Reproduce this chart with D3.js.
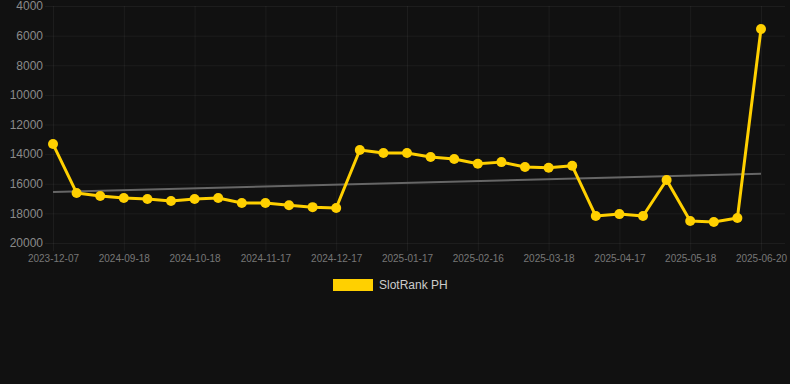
<!DOCTYPE html>
<html><head><meta charset="utf-8">
<script src="https://cdn.jsdelivr.net/npm/d3@7"></script>
<style>html,body{margin:0;padding:0;background:#111111;}svg{display:block;}</style>
</head><body>
<svg id="c" width="790" height="384"></svg>
<script>
const categories = ["2023-12-07","2024-09-03","2024-09-10","2024-09-18","2024-09-25","2024-10-03","2024-10-18","2024-10-25","2024-11-02","2024-11-17","2024-11-25","2024-12-03","2024-12-17","2024-12-25","2025-01-02","2025-01-17","2025-01-25","2025-02-02","2025-02-16","2025-02-24","2025-03-03","2025-03-18","2025-03-26","2025-04-03","2025-04-17","2025-04-25","2025-05-03","2025-05-18","2025-05-26","2025-06-03","2025-06-20"];
const rankValues = [13320,16620,16830,16960,17030,17170,17030,16960,17300,17300,17450,17580,17640,13720,13920,13920,14200,14330,14650,14540,14870,14920,14790,18180,18050,18180,15750,18520,18580,18310,5550];
const tickLabels = ["2023-12-07","2024-09-18","2024-10-18","2024-11-17","2024-12-17","2025-01-17","2025-02-16","2025-03-18","2025-04-17","2025-05-18","2025-06-20"];
const yTicks = [4000,6000,8000,10000,12000,14000,16000,18000,20000];
const seriesName = "SlotRank PH";

(function () {
const svg = d3.select("#c");
const pLeft = 53, pRight = 761, pTop = 6, pBottom = 243;
const x = d3.scalePoint().domain(categories).range([pLeft, pRight]);
const y = d3.scaleLinear().domain([4000, 20000]).range([pTop, pBottom]);
const gridColor = "rgba(255,255,255,0.05)";

const yAxis = d3.axisLeft(y).tickValues(yTicks).tickSize(8).tickFormat(d => d);
const gy = svg.append("g").attr("transform", `translate(${pLeft},0)`).call(yAxis);
gy.select(".domain").remove();
gy.selectAll(".tick line").attr("x1", -8).attr("x2", 785 - pLeft).attr("stroke", gridColor);
gy.selectAll(".tick text").attr("x", -10).attr("fill", "#8a8a8a").attr("font-size", 12)
  .attr("font-family", "Liberation Sans, Arial, sans-serif");

const xAxis = d3.axisBottom(x).tickValues(tickLabels).tickSize(8);
const gx = svg.append("g").attr("transform", `translate(0,${pBottom})`).call(xAxis);
gx.select(".domain").remove();
gx.selectAll(".tick line").attr("y1", pTop - pBottom).attr("y2", 8).attr("stroke", gridColor);
gx.selectAll(".tick text").attr("y", 12).attr("fill", "#777").attr("font-size", 10)
  .attr("font-family", "Liberation Sans, Arial, sans-serif");

const n = rankValues.length;
const idx = d3.range(n);
const mx = d3.mean(idx), my = d3.mean(rankValues);
const slope = d3.sum(idx, i => (i - mx) * (rankValues[i] - my)) / d3.sum(idx, i => (i - mx) ** 2);
const icpt = my - slope * mx;
svg.append("line")
  .attr("x1", x(categories[0])).attr("y1", y(icpt))
  .attr("x2", x(categories[n - 1])).attr("y2", y(icpt + slope * (n - 1)))
  .attr("stroke", "#666").attr("stroke-width", 2);

const line = d3.line().x((d, i) => x(categories[i])).y(d => y(d));
svg.append("path").datum(rankValues).attr("d", line)
  .attr("fill", "none").attr("stroke", "#FFD000").attr("stroke-width", 3).attr("stroke-linejoin", "round");
svg.append("g").selectAll("circle").data(rankValues).join("circle")
  .attr("cx", (d, i) => x(categories[i])).attr("cy", d => y(d)).attr("r", 5)
  .attr("fill", "#FFD000");

const lg = svg.append("g");
lg.append("rect").attr("x", 333).attr("y", 279).attr("width", 40).attr("height", 12).attr("fill", "#FFD000");
lg.append("text").attr("x", 379).attr("y", 289).text(seriesName).attr("fill", "#ccc")
  .attr("font-size", 12).attr("font-family", "Liberation Sans, Arial, sans-serif");
})();
</script>
</body></html>
